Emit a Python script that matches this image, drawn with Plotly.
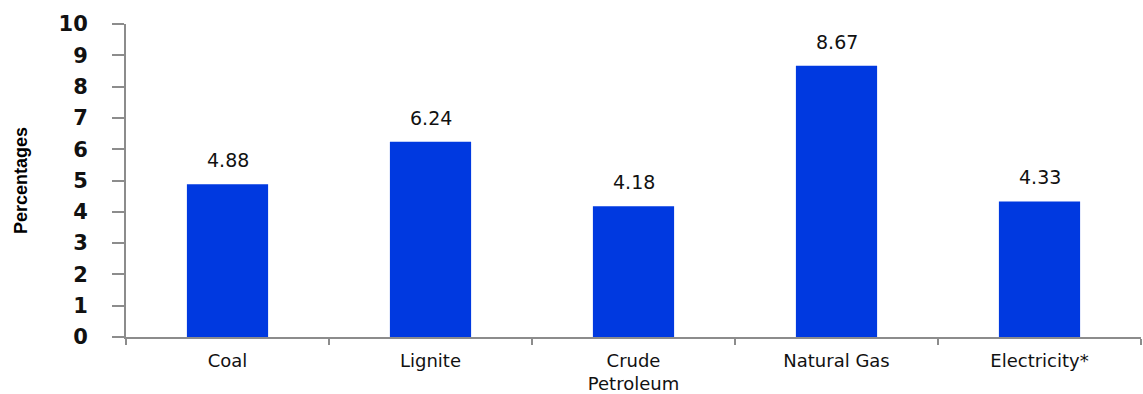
import plotly.graph_objects as go

categories = ["Coal", "Lignite", "Crude<br>Petroleum", "Natural Gas", "Electricity*"]
values = [4.88, 6.24, 4.18, 8.67, 4.33]
y_ticks = list(range(0, 11))

bar_color = "#0039E0"
axis_color = "#8c8c8c"

fig = go.Figure(
    go.Bar(
        x=categories,
        y=values,
        width=0.4,
        marker=dict(color=bar_color, line=dict(width=0)),
    )
)

# value labels above each bar
for cat, val in zip(categories, values):
    fig.add_annotation(
        x=cat, y=val, text=f"{val:.2f}", showarrow=False,
        yanchor="bottom", yshift=11,
        font=dict(family="DejaVu Sans", size=19, color="#111111"),
    )

fig.update_layout(
    width=1143, height=394,
    margin=dict(l=126, r=2, t=24, b=57),
    paper_bgcolor="white", plot_bgcolor="white",
    showlegend=False,
    bargap=0.6,
)

fig.update_xaxes(
    range=[-0.5, 4.5],
    automargin=False,
    showline=True, linecolor=axis_color, linewidth=2,
    ticks="outside", tickson="boundaries", ticklen=6, tickcolor=axis_color, tickwidth=2,
    showgrid=False,
    ticklabelstandoff=6,
    tickfont=dict(family="DejaVu Sans", size=18, color="#111111"),
)

fig.update_yaxes(
    range=[0, 10], tickvals=y_ticks,
    automargin=False,
    showline=True, linecolor=axis_color, linewidth=2,
    ticks="outside", ticklen=12, tickcolor=axis_color, tickwidth=2,
    showgrid=False, zeroline=False,
    ticklabelstandoff=20,
    tickfont=dict(family="DejaVu Sans", size=21, color="#111111", weight="bold"),
    title=dict(
        text="Percentages",
        font=dict(family="Liberation Sans", size=18, color="#000000", weight="bold"),
        standoff=26,
    ),
)

fig.write_html("out.html")
